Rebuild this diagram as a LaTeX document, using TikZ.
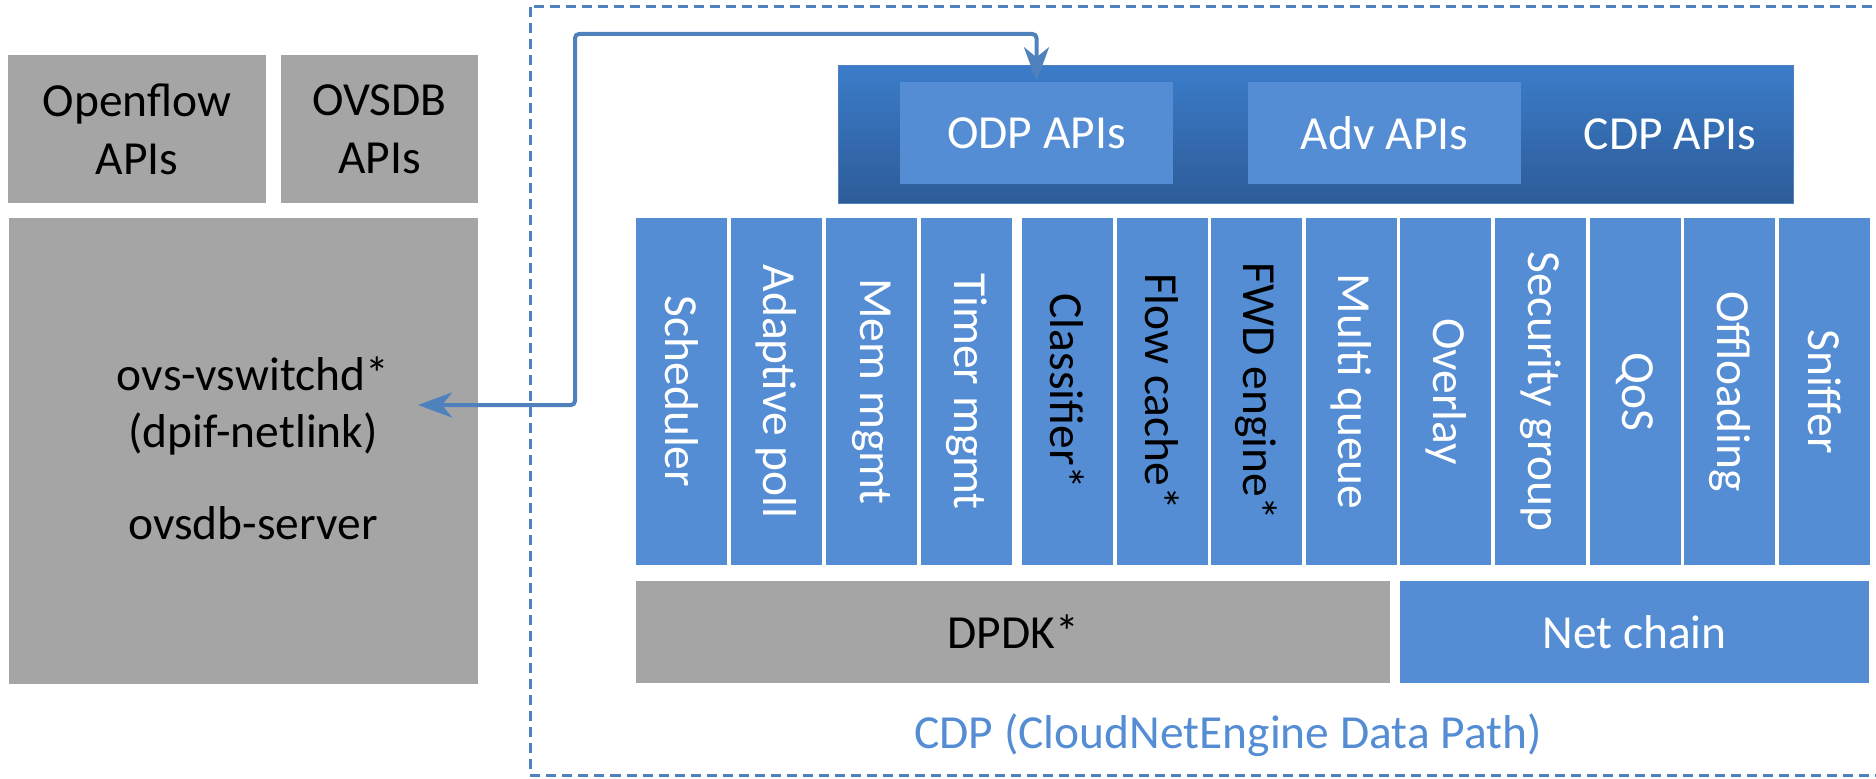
\documentclass[tikz,border=0pt]{standalone}
\usepackage{fontspec}
\setmainfont{Carlito}
\usetikzlibrary{arrows.meta}
\definecolor{boxgray}{HTML}{A5A5A5}
\definecolor{colblue}{HTML}{548DD4}
\definecolor{linkblue}{HTML}{4F81BD}
\definecolor{bartop}{HTML}{3B7CC9}
\definecolor{barbot}{HTML}{2D5C98}
\begin{document}
\begin{tikzpicture}[x=0.01cm,y=-0.01cm,
  font=\fontsize{13.5}{16.4}\selectfont,
  graybox/.style={fill=boxgray,inner sep=0pt,align=center},
  bluebox/.style={fill=colblue,text=white,inner sep=0pt,align=center},
  module/.style={bluebox,rotate=-90,minimum width=3.47cm,minimum height=0.91cm},
  link/.style={draw=linkblue,line width=0.4mm,rounded corners=0.4mm,
    arrows={Stealth[length=3.4mm,width=2.5mm,inset=1mm]-Stealth[length=3.4mm,width=2.5mm,inset=1mm]}}]
\useasboundingbox (0,0) rectangle (1876,779);
% OVS side
\node[graybox,minimum width=2.58cm,minimum height=1.48cm] (ofapi) at (137,129) {Openflow\\APIs};
\node[graybox,minimum width=1.97cm,minimum height=1.48cm] (dbapi) at (379.5,129) {OVSDB\\APIs};
\node[graybox,minimum width=4.69cm,minimum height=4.66cm] (ovs) at (243.5,451) {};
\node[align=center] (ovstext) at (253,448) {ovs-vswitchd*\\(dpif-netlink)\\[0.34cm]ovsdb-server};
% CDP frame
\draw[draw=linkblue,line width=0.3mm,dash pattern=on 1mm off 0.6mm] (530,7) rectangle (1890,775);
\node[text=colblue,anchor=base] (cdp) at (1228,748) {CDP (CloudNetEngine Data Path)};
% API layer
\node[top color=bartop,bottom color=barbot,draw=linkblue,line width=0.3pt,
  minimum width=9.54cm,minimum height=1.37cm,inner sep=0pt] (apibar) at (1316,134.5) {};
\node[bluebox,minimum width=2.73cm,minimum height=1.02cm] (odp) at (1036.5,133) {ODP APIs};
\node[bluebox,minimum width=2.73cm,minimum height=1.02cm] (adv) at (1384.5,133) {Adv APIs};
\node[text=white] (cdpapi) at (1670,134) {CDP APIs};
% modules
\node[module] (sched) at (681.5,391.5) {Scheduler};
\node[module] (apoll) at (776.5,391.5) {Adaptive poll};
\node[module] (mem) at (871.5,391.5) {Mem mgmt};
\node[module] (timer) at (966.5,391.5) {Timer mgmt};
\node[module,text=black] (cls) at (1067.5,391.5) {Classifier*};
\node[module,text=black] (fcache) at (1162.1,391.5) {Flow cache*};
\node[module,text=black] (fwd) at (1256.7,391.5) {FWD engine*};
\node[module] (mq) at (1351.3,391.5) {Multi queue};
\node[module] (ovl) at (1445.9,391.5) {Overlay};
\node[module] (sg) at (1540.5,391.5) {Security group};
\node[module] (qos) at (1635.1,391.5) {QoS};
\node[module] (offl) at (1729.7,391.5) {Offloading};
\node[module] (snif) at (1824.3,391.5) {Sniffer};
% bottom layer
\node[graybox,minimum width=7.54cm,minimum height=1.02cm] (dpdk) at (1013,632) {DPDK*};
\node[bluebox,minimum width=4.69cm,minimum height=1.02cm] (netchain) at (1634.5,632) {Net chain};
% link between ovs and ODP
\coordinate (ovsin) at (418,405);
\coordinate (turn) at (575,34);
\draw[link] (ovsin) -| (turn) -| (odp.north);
\end{tikzpicture}
\end{document}
